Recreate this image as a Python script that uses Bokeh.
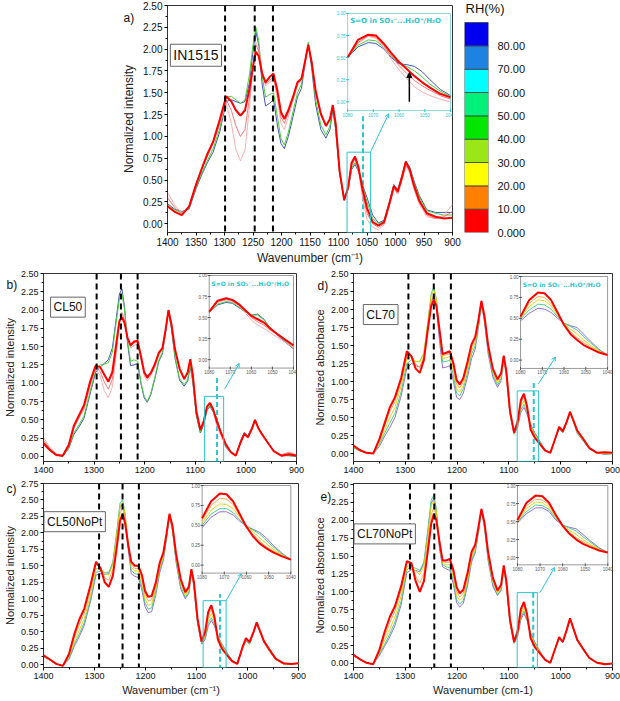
from bokeh.plotting import figure
from bokeh.models import (Range1d, SingleIntervalTicker, FixedTicker, NumeralTickFormatter,
                          Span, BoxAnnotation, Arrow, NormalHead, OpenHead, Label)
from bokeh.layouts import column, row
from bokeh.embed import file_html
from bokeh.resources import INLINE
from bokeh.core.properties import value

# ---------------- data ----------------
wn = [1400, 1388, 1375, 1362, 1350, 1340, 1330, 1320, 1308, 1297,
      1288, 1280, 1272, 1264, 1256, 1250, 1245, 1240, 1234, 1228,
      1221, 1214, 1207, 1201, 1195, 1188, 1180, 1172, 1165, 1159,
      1153, 1147, 1140, 1131, 1122, 1115, 1110, 1105, 1098, 1090,
      1083, 1077, 1071, 1065, 1058, 1050, 1040, 1030, 1020, 1010,
      1003, 996, 988, 982, 975, 968, 958, 945, 930, 915,
      900]

# panel a (IN1515)
a_pink = [0.36, 0.22, 0.12, 0.20, 0.45, 0.62, 0.78, 0.92, 1.15, 1.38,
          1.15, 0.85, 0.72, 0.85, 1.35, 1.80, 2.08, 2.02, 1.75, 1.58,
          1.62, 1.65, 1.42, 1.15, 1.08, 1.22, 1.40, 1.58, 1.65, 1.85,
          2.05, 1.85, 1.50, 1.25, 1.12, 1.20, 1.36, 1.15, 0.60, 0.27,
          0.42, 0.66, 0.74, 0.60, 0.30, 0.05, -0.04, -0.07, -0.01, 0.22,
          0.40, 0.34, 0.50, 0.66, 0.58, 0.40, 0.22, 0.08, 0.06, 0.10,
          0.22]
a_salmon = [0.30, 0.19, 0.11, 0.20, 0.45, 0.62, 0.77, 0.92, 1.16, 1.42,
            1.30, 1.12, 1.00, 1.08, 1.45, 1.82, 2.05, 1.98, 1.75, 1.60,
            1.64, 1.68, 1.48, 1.22, 1.15, 1.27, 1.43, 1.60, 1.66, 1.85,
            2.05, 1.85, 1.50, 1.25, 1.12, 1.20, 1.36, 1.15, 0.60, 0.27,
            0.42, 0.67, 0.75, 0.62, 0.36, 0.12, 0.00, -0.04, 0.00, 0.23,
            0.41, 0.35, 0.52, 0.68, 0.60, 0.42, 0.24, 0.10, 0.06, 0.08,
            0.14]
a_red = [0.20, 0.14, 0.10, 0.20, 0.45, 0.63, 0.80, 0.94, 1.20, 1.46,
         1.40, 1.30, 1.24, 1.30, 1.55, 1.80, 1.97, 1.92, 1.72, 1.62,
         1.68, 1.72, 1.52, 1.28, 1.20, 1.30, 1.45, 1.62, 1.66, 1.85,
         2.05, 1.85, 1.52, 1.26, 1.12, 1.20, 1.36, 1.15, 0.60, 0.27,
         0.42, 0.70, 0.77, 0.65, 0.40, 0.18, 0.02, -0.02, 0.02, 0.25,
         0.43, 0.37, 0.55, 0.71, 0.62, 0.45, 0.26, 0.12, 0.08, 0.06,
         0.07]
a_green = [0.22, 0.16, 0.13, 0.18, 0.42, 0.58, 0.72, 0.86, 1.10, 1.45,
           1.46, 1.42, 1.38, 1.42, 1.72, 2.05, 2.25, 2.10, 1.70, 1.45,
           1.48, 1.50, 1.22, 0.98, 0.90, 1.05, 1.28, 1.50, 1.60, 1.85,
           2.08, 1.82, 1.42, 1.13, 1.02, 1.12, 1.33, 1.10, 0.58, 0.27,
           0.41, 0.64, 0.70, 0.62, 0.44, 0.25, 0.06, 0.00, 0.03, 0.26,
           0.44, 0.38, 0.56, 0.71, 0.64, 0.48, 0.30, 0.15, 0.12, 0.10,
           0.10]
a_blue = [0.23, 0.17, 0.14, 0.17, 0.40, 0.56, 0.70, 0.82, 1.06, 1.40,
          1.42, 1.40, 1.38, 1.40, 1.62, 1.98, 2.20, 2.05, 1.60, 1.35,
          1.38, 1.42, 1.12, 0.92, 0.86, 1.00, 1.22, 1.45, 1.55, 1.82,
          2.06, 1.78, 1.36, 1.08, 0.98, 1.08, 1.30, 1.08, 0.57, 0.27,
          0.40, 0.62, 0.68, 0.60, 0.45, 0.30, 0.10, 0.01, 0.04, 0.27,
          0.45, 0.39, 0.57, 0.72, 0.65, 0.50, 0.32, 0.16, 0.13, 0.13,
          0.13]

# panel b (CL50)
b_pink = [0.26, 0.13, 0.04, 0.01, 0.14, 0.38, 0.52, 0.64, 0.95, 1.20,
          1.10, 0.90, 0.80, 0.95, 1.40, 1.82, 1.97, 1.88, 1.62, 1.48,
          1.52, 1.53, 1.30, 1.10, 1.03, 1.10, 1.22, 1.38, 1.46, 1.72,
          2.00, 1.80, 1.45, 1.18, 1.05, 1.14, 1.32, 1.12, 0.62, 0.36,
          0.48, 0.66, 0.71, 0.63, 0.42, 0.29, 0.15, 0.05, 0.01, 0.20,
          0.31, 0.26, 0.38, 0.50, 0.38, 0.30, 0.20, 0.08, 0.02, 0.06,
          0.02]
b_salmon = [0.22, 0.11, 0.03, 0.01, 0.14, 0.39, 0.53, 0.66, 0.98, 1.22,
            1.16, 1.02, 0.92, 1.05, 1.48, 1.85, 1.95, 1.86, 1.62, 1.50,
            1.55, 1.56, 1.33, 1.13, 1.06, 1.12, 1.24, 1.40, 1.47, 1.72,
            2.00, 1.80, 1.45, 1.18, 1.05, 1.14, 1.32, 1.12, 0.62, 0.36,
            0.48, 0.67, 0.72, 0.64, 0.46, 0.32, 0.17, 0.06, 0.01, 0.20,
            0.31, 0.26, 0.38, 0.50, 0.38, 0.30, 0.20, 0.08, 0.02, 0.05,
            0.02]
b_red = [0.18, 0.09, 0.02, 0.01, 0.16, 0.42, 0.56, 0.70, 1.02, 1.24,
         1.22, 1.12, 1.02, 1.15, 1.55, 1.85, 1.90, 1.83, 1.62, 1.52,
         1.57, 1.58, 1.36, 1.15, 1.08, 1.14, 1.26, 1.42, 1.48, 1.72,
         2.00, 1.80, 1.46, 1.20, 1.06, 1.15, 1.33, 1.12, 0.62, 0.36,
         0.49, 0.68, 0.73, 0.65, 0.49, 0.34, 0.17, 0.06, 0.01, 0.20,
         0.31, 0.26, 0.38, 0.50, 0.38, 0.30, 0.20, 0.07, 0.01, 0.03,
         0.01]
b_green = [0.16, 0.08, 0.02, 0.00, 0.12, 0.32, 0.43, 0.55, 0.88, 1.18,
           1.25, 1.26, 1.28, 1.42, 1.85, 2.15, 2.22, 2.02, 1.58, 1.30,
           1.32, 1.30, 1.00, 0.82, 0.75, 0.86, 1.08, 1.32, 1.42, 1.70,
           2.00, 1.76, 1.36, 1.06, 0.98, 1.05, 1.24, 1.04, 0.58, 0.33,
           0.45, 0.64, 0.69, 0.62, 0.53, 0.34, 0.14, 0.05, 0.01, 0.21,
           0.32, 0.27, 0.39, 0.49, 0.38, 0.31, 0.20, 0.07, 0.01, 0.01,
           0.00]
b_blue = [0.16, 0.08, 0.02, 0.00, 0.11, 0.30, 0.40, 0.52, 0.85, 1.15,
          1.22, 1.27, 1.32, 1.48, 1.90, 2.22, 2.29, 2.05, 1.55, 1.24,
          1.25, 1.27, 0.98, 0.80, 0.74, 0.84, 1.06, 1.30, 1.40, 1.68,
          1.99, 1.74, 1.34, 1.04, 0.96, 1.03, 1.22, 1.02, 0.56, 0.32,
          0.44, 0.63, 0.68, 0.61, 0.54, 0.33, 0.13, 0.05, 0.01, 0.22,
          0.33, 0.28, 0.40, 0.48, 0.38, 0.31, 0.20, 0.07, 0.01, 0.01,
          0.00]

# panel c (CL50NoPt)
c_red = [0.14, 0.08, 0.01, -0.02, 0.16, 0.45, 0.68, 0.85, 1.20, 1.56,
         1.46, 1.25, 1.18, 1.35, 1.80, 2.18, 2.29, 2.15, 1.82, 1.56,
         1.50, 1.50, 1.36, 1.12, 1.03, 1.04, 1.24, 1.55, 1.70, 1.98,
         2.29, 2.10, 1.68, 1.30, 1.10, 1.18, 1.45, 1.25, 0.70, 0.35,
         0.50, 0.80, 0.90, 0.73, 0.38, 0.24, 0.14, 0.05, 0.01, 0.26,
         0.40, 0.34, 0.50, 0.64, 0.50, 0.36, 0.24, 0.09, 0.02, 0.01,
         0.02]
c_orange = [0.13, 0.08, 0.01, -0.02, 0.14, 0.40, 0.60, 0.78, 1.13, 1.52,
            1.48, 1.32, 1.28, 1.45, 1.92, 2.30, 2.38, 2.22, 1.84, 1.52,
            1.46, 1.46, 1.30, 1.06, 0.97, 0.98, 1.19, 1.51, 1.67, 1.96,
            2.29, 2.09, 1.65, 1.27, 1.08, 1.16, 1.44, 1.23, 0.68, 0.34,
            0.47, 0.74, 0.84, 0.70, 0.40, 0.26, 0.15, 0.05, 0.01, 0.25,
            0.39, 0.33, 0.50, 0.64, 0.50, 0.36, 0.23, 0.09, 0.02, 0.01,
            0.02]
c_yellow = [0.13, 0.07, 0.01, -0.02, 0.12, 0.34, 0.52, 0.70, 1.05, 1.46,
            1.46, 1.38, 1.36, 1.52, 2.00, 2.40, 2.46, 2.28, 1.84, 1.48,
            1.42, 1.42, 1.24, 1.00, 0.90, 0.92, 1.14, 1.47, 1.64, 1.94,
            2.28, 2.07, 1.61, 1.23, 1.05, 1.13, 1.43, 1.21, 0.66, 0.33,
            0.44, 0.68, 0.77, 0.66, 0.42, 0.28, 0.16, 0.05, 0.01, 0.25,
            0.38, 0.32, 0.49, 0.63, 0.50, 0.35, 0.22, 0.08, 0.01, 0.00,
            0.02]
c_green = [0.12, 0.07, 0.01, -0.02, 0.10, 0.30, 0.46, 0.64, 0.99, 1.40,
           1.42, 1.40, 1.40, 1.56, 2.05, 2.45, 2.50, 2.30, 1.82, 1.43,
           1.38, 1.37, 1.18, 0.94, 0.84, 0.86, 1.10, 1.44, 1.61, 1.92,
           2.27, 2.05, 1.58, 1.19, 1.02, 1.10, 1.42, 1.19, 0.64, 0.32,
           0.41, 0.63, 0.71, 0.62, 0.43, 0.30, 0.17, 0.06, 0.01, 0.24,
           0.37, 0.31, 0.49, 0.63, 0.49, 0.35, 0.22, 0.08, 0.01, 0.00,
           0.02]
c_purple = [0.12, 0.07, 0.01, -0.02, 0.08, 0.27, 0.42, 0.60, 0.95, 1.36,
            1.38, 1.37, 1.38, 1.53, 2.00, 2.38, 2.44, 2.24, 1.76, 1.38,
            1.34, 1.32, 1.13, 0.88, 0.79, 0.80, 1.05, 1.40, 1.58, 1.90,
            2.26, 2.03, 1.55, 1.15, 1.00, 1.08, 1.41, 1.17, 0.62, 0.31,
            0.38, 0.58, 0.67, 0.59, 0.43, 0.31, 0.18, 0.06, 0.01, 0.24,
            0.36, 0.31, 0.48, 0.62, 0.49, 0.34, 0.21, 0.08, 0.01, 0.00,
            0.02]

# panel d (CL70)
d_red = [0.11, 0.05, 0.01, 0.00, 0.20, 0.42, 0.64, 0.78, 1.05, 1.42,
         1.35, 1.18, 1.12, 1.30, 1.75, 2.05, 2.13, 2.05, 1.72, 1.38,
         1.40, 1.42, 1.25, 1.02, 0.96, 1.05, 1.27, 1.52, 1.62, 1.85,
         2.12, 1.90, 1.50, 1.18, 1.03, 1.12, 1.36, 1.15, 0.60, 0.29,
         0.45, 0.74, 0.83, 0.66, 0.33, 0.22, 0.13, 0.04, 0.01, 0.22,
         0.37, 0.31, 0.45, 0.58, 0.45, 0.32, 0.22, 0.08, 0.01, 0.02,
         0.01]
d_orange = [0.10, 0.05, 0.01, 0.00, 0.18, 0.38, 0.58, 0.72, 1.00, 1.38,
            1.36, 1.24, 1.20, 1.36, 1.80, 2.12, 2.20, 2.10, 1.72, 1.36,
            1.37, 1.39, 1.20, 0.97, 0.91, 1.00, 1.22, 1.48, 1.58, 1.83,
            2.12, 1.89, 1.48, 1.16, 1.01, 1.10, 1.35, 1.14, 0.58, 0.28,
            0.43, 0.70, 0.78, 0.64, 0.36, 0.24, 0.14, 0.04, 0.01, 0.22,
            0.37, 0.31, 0.45, 0.58, 0.45, 0.31, 0.21, 0.08, 0.01, 0.01,
            0.01]
d_yellow = [0.09, 0.04, 0.01, 0.00, 0.15, 0.32, 0.50, 0.64, 0.94, 1.32,
            1.34, 1.28, 1.27, 1.40, 1.85, 2.20, 2.27, 2.14, 1.70, 1.32,
            1.33, 1.35, 1.14, 0.90, 0.85, 0.95, 1.17, 1.43, 1.54, 1.80,
            2.11, 1.87, 1.45, 1.13, 0.98, 1.07, 1.34, 1.12, 0.57, 0.28,
            0.41, 0.66, 0.73, 0.61, 0.38, 0.26, 0.15, 0.04, 0.01, 0.22,
            0.36, 0.30, 0.44, 0.58, 0.45, 0.30, 0.20, 0.07, 0.01, 0.00,
            0.00]
d_green = [0.08, 0.04, 0.01, 0.00, 0.13, 0.28, 0.42, 0.56, 0.86, 1.25,
           1.30, 1.28, 1.28, 1.40, 1.85, 2.22, 2.31, 2.15, 1.66, 1.27,
           1.28, 1.30, 1.08, 0.84, 0.80, 0.90, 1.12, 1.38, 1.50, 1.77,
           2.10, 1.85, 1.42, 1.10, 0.95, 1.04, 1.33, 1.10, 0.56, 0.27,
           0.39, 0.61, 0.68, 0.58, 0.40, 0.28, 0.16, 0.05, 0.01, 0.22,
           0.35, 0.29, 0.44, 0.58, 0.44, 0.29, 0.19, 0.07, 0.01, -0.01,
           0.00]
d_purple = [0.08, 0.04, 0.01, 0.00, 0.10, 0.24, 0.36, 0.50, 0.80, 1.19,
            1.25, 1.22, 1.20, 1.32, 1.78, 2.10, 2.18, 2.04, 1.56, 1.19,
            1.20, 1.22, 1.00, 0.78, 0.75, 0.84, 1.06, 1.32, 1.45, 1.74,
            2.08, 1.82, 1.38, 1.06, 0.92, 1.01, 1.32, 1.08, 0.55, 0.27,
            0.37, 0.57, 0.64, 0.55, 0.40, 0.29, 0.17, 0.05, 0.01, 0.22,
            0.35, 0.29, 0.43, 0.58, 0.44, 0.28, 0.19, 0.07, 0.01, -0.01,
            0.00]

# panel e (CL70NoPt)
e_red = [0.12, 0.06, 0.01, -0.01, 0.19, 0.44, 0.65, 0.80, 1.08, 1.43,
         1.40, 1.15, 1.00, 1.15, 1.60, 1.95, 2.09, 2.00, 1.70, 1.44,
         1.44, 1.46, 1.30, 1.07, 0.98, 1.03, 1.26, 1.56, 1.66, 1.90,
         2.16, 1.96, 1.55, 1.20, 1.02, 1.10, 1.37, 1.16, 0.62, 0.30,
         0.46, 0.76, 0.86, 0.69, 0.35, 0.23, 0.14, 0.05, 0.01, 0.22,
         0.37, 0.30, 0.48, 0.63, 0.48, 0.33, 0.22, 0.08, 0.01, -0.01,
         0.00]
e_orange = [0.12, 0.06, 0.01, -0.01, 0.17, 0.38, 0.57, 0.73, 1.02, 1.40,
            1.40, 1.22, 1.12, 1.26, 1.72, 2.08, 2.18, 2.06, 1.68, 1.42,
            1.41, 1.42, 1.25, 1.01, 0.93, 0.98, 1.21, 1.52, 1.63, 1.88,
            2.16, 1.95, 1.52, 1.17, 1.00, 1.08, 1.36, 1.15, 0.60, 0.30,
            0.44, 0.72, 0.81, 0.67, 0.37, 0.25, 0.15, 0.05, 0.01, 0.22,
            0.37, 0.30, 0.48, 0.63, 0.48, 0.33, 0.22, 0.08, 0.01, 0.00,
            0.00]
e_yellow = [0.11, 0.06, 0.01, -0.01, 0.15, 0.32, 0.48, 0.65, 0.94, 1.35,
            1.38, 1.29, 1.24, 1.36, 1.82, 2.20, 2.27, 2.12, 1.66, 1.40,
            1.38, 1.38, 1.20, 0.95, 0.88, 0.93, 1.16, 1.48, 1.60, 1.86,
            2.15, 1.93, 1.49, 1.14, 0.98, 1.06, 1.35, 1.13, 0.59, 0.29,
            0.42, 0.68, 0.77, 0.64, 0.39, 0.27, 0.16, 0.05, 0.01, 0.22,
            0.36, 0.30, 0.47, 0.63, 0.48, 0.33, 0.21, 0.08, 0.01, 0.00,
            0.00]
e_green = [0.11, 0.06, 0.01, -0.01, 0.13, 0.27, 0.41, 0.58, 0.87, 1.31,
           1.35, 1.33, 1.30, 1.42, 1.90, 2.28, 2.35, 2.16, 1.64, 1.38,
           1.35, 1.34, 1.15, 0.89, 0.83, 0.88, 1.12, 1.45, 1.57, 1.84,
           2.15, 1.91, 1.46, 1.11, 0.96, 1.04, 1.34, 1.11, 0.58, 0.29,
           0.40, 0.64, 0.73, 0.62, 0.41, 0.29, 0.17, 0.05, 0.01, 0.22,
           0.36, 0.29, 0.47, 0.62, 0.48, 0.32, 0.21, 0.07, 0.01, 0.00,
           0.00]
e_purple = [0.11, 0.06, 0.01, -0.01, 0.11, 0.24, 0.37, 0.53, 0.82, 1.27,
            1.31, 1.30, 1.28, 1.40, 1.86, 2.24, 2.30, 2.10, 1.60, 1.35,
            1.32, 1.30, 1.10, 0.85, 0.79, 0.84, 1.08, 1.42, 1.54, 1.82,
            2.14, 1.89, 1.43, 1.08, 0.95, 1.02, 1.33, 1.10, 0.57, 0.28,
            0.38, 0.61, 0.70, 0.60, 0.42, 0.30, 0.17, 0.05, 0.01, 0.22,
            0.35, 0.29, 0.47, 0.62, 0.47, 0.32, 0.20, 0.07, 0.01, 0.00,
            0.00]

# insets (S=O band, 1080-1040 cm-1)
wn_in = [1080, 1076, 1072, 1069, 1066, 1063, 1060, 1057, 1054, 1051, 1048, 1044, 1040]
ia_pink = [0.50, 0.66, 0.74, 0.72, 0.62, 0.48, 0.36, 0.26, 0.17, 0.11, 0.07, 0.03, 0.00]
ia_salmon = [0.50, 0.67, 0.75, 0.73, 0.64, 0.52, 0.41, 0.32, 0.24, 0.18, 0.13, 0.07, 0.03]
ia_red = [0.50, 0.70, 0.76, 0.75, 0.66, 0.55, 0.45, 0.37, 0.29, 0.22, 0.16, 0.09, 0.05]
ia_green = [0.50, 0.64, 0.70, 0.69, 0.62, 0.52, 0.44, 0.40, 0.35, 0.28, 0.20, 0.12, 0.06]
ia_blue = [0.50, 0.62, 0.67, 0.66, 0.60, 0.50, 0.43, 0.42, 0.40, 0.34, 0.25, 0.14, 0.07]

ib_pink = [0.57, 0.68, 0.71, 0.69, 0.64, 0.56, 0.47, 0.41, 0.37, 0.32, 0.27, 0.21, 0.14]
ib_salmon = [0.57, 0.69, 0.72, 0.70, 0.65, 0.58, 0.50, 0.45, 0.41, 0.35, 0.30, 0.23, 0.16]
ib_red = [0.57, 0.70, 0.73, 0.71, 0.66, 0.59, 0.52, 0.48, 0.44, 0.37, 0.31, 0.24, 0.17]
ib_green = [0.56, 0.66, 0.69, 0.68, 0.63, 0.57, 0.53, 0.53, 0.47, 0.38, 0.31, 0.22, 0.14]
ib_blue = [0.56, 0.65, 0.68, 0.67, 0.62, 0.57, 0.53, 0.54, 0.48, 0.37, 0.30, 0.21, 0.13]

ic_red = [0.59, 0.80, 0.90, 0.89, 0.80, 0.64, 0.48, 0.36, 0.27, 0.21, 0.16, 0.11, 0.07]
ic_orange = [0.56, 0.75, 0.84, 0.83, 0.76, 0.62, 0.48, 0.39, 0.30, 0.23, 0.18, 0.12, 0.07]
ic_yellow = [0.53, 0.69, 0.77, 0.76, 0.71, 0.60, 0.49, 0.42, 0.34, 0.27, 0.20, 0.13, 0.07]
ic_green = [0.50, 0.64, 0.71, 0.71, 0.66, 0.57, 0.49, 0.44, 0.39, 0.31, 0.23, 0.14, 0.07]
ic_purple = [0.47, 0.60, 0.67, 0.67, 0.63, 0.55, 0.49, 0.45, 0.41, 0.34, 0.25, 0.15, 0.07]

id_red = [0.52, 0.72, 0.81, 0.80, 0.72, 0.57, 0.42, 0.31, 0.24, 0.18, 0.14, 0.09, 0.06]
id_orange = [0.51, 0.68, 0.76, 0.75, 0.68, 0.56, 0.43, 0.34, 0.27, 0.21, 0.16, 0.10, 0.06]
id_yellow = [0.50, 0.64, 0.72, 0.71, 0.65, 0.54, 0.44, 0.37, 0.31, 0.24, 0.18, 0.11, 0.06]
id_green = [0.49, 0.60, 0.67, 0.66, 0.61, 0.52, 0.44, 0.40, 0.36, 0.28, 0.21, 0.12, 0.06]
id_purple = [0.47, 0.56, 0.62, 0.61, 0.57, 0.50, 0.44, 0.41, 0.39, 0.31, 0.23, 0.13, 0.06]

ie_red = [0.52, 0.76, 0.86, 0.85, 0.76, 0.59, 0.44, 0.33, 0.25, 0.19, 0.15, 0.10, 0.07]
ie_orange = [0.51, 0.72, 0.81, 0.80, 0.73, 0.58, 0.44, 0.35, 0.28, 0.22, 0.17, 0.11, 0.07]
ie_yellow = [0.50, 0.68, 0.77, 0.76, 0.70, 0.56, 0.45, 0.38, 0.32, 0.25, 0.19, 0.12, 0.07]
ie_green = [0.49, 0.64, 0.73, 0.72, 0.67, 0.54, 0.45, 0.41, 0.37, 0.29, 0.22, 0.13, 0.07]
ie_purple = [0.48, 0.61, 0.69, 0.69, 0.64, 0.52, 0.45, 0.42, 0.40, 0.32, 0.24, 0.14, 0.07]

inset_xticks = [1080, 1070, 1060, 1050, 1040]
inset_yticks = [0.0, 0.25, 0.5, 0.75, 1.0]
inset_ylabels = ["0.00", "0.25", "0.50", "0.75", "1.00"]

# RH colour scale
rh_low = [0, 10, 20, 30, 40, 50, 60, 70, 80]
rh_high = [10, 20, 30, 40, 50, 60, 70, 80, 90]
rh_colors = ["#ff0000", "#ff8000", "#ffff00", "#9be619", "#00e600",
             "#00f07a", "#00ffff", "#1e82e0", "#0000ee"]
rh_ticks = [0, 10, 20, 30, 40, 50, 60, 70, 80]
rh_labels = ["0.000", "10.00", "20.00", "30.00", "40.00", "50.00", "60.00", "70.00", "80.00"]

# ---------------- helpers ----------------
FONT = "Liberation Sans"
CYAN = "#2cc5cc"
SUBTXT = "S=O in SO\u2083\u207b...H\u2083O\u207a/H\u2082O"


def base_fig(w, h, ml, mr, mt, mb, ymin, ymax, xstep, ylabel, xlabel=None):
    p = figure(width=w, height=h, x_range=Range1d(1400, 900), y_range=Range1d(ymin, ymax),
               output_backend="svg", toolbar_location=None,
               min_border_left=ml, min_border_right=mr, min_border_top=mt, min_border_bottom=mb)
    p.xgrid.visible = False
    p.ygrid.visible = False
    p.outline_line_color = "#333333"
    p.background_fill_color = "white"
    p.border_fill_color = "white"
    p.xaxis.ticker = SingleIntervalTicker(interval=xstep, num_minor_ticks=2)
    p.yaxis.ticker = SingleIntervalTicker(interval=0.25, num_minor_ticks=2)
    p.yaxis.formatter = NumeralTickFormatter(format="0.00")
    for ax in (p.xaxis[0], p.yaxis[0]):
        ax.major_label_text_font = FONT
        ax.major_label_text_font_size = "9px"
        ax.major_label_text_color = "#111111"
        ax.major_tick_out = 3
        ax.major_tick_in = 0
        ax.minor_tick_out = 2
        ax.minor_tick_in = 0
        ax.major_label_standoff = 2
        ax.axis_line_color = "#333333"
        ax.axis_label_text_font = FONT
        ax.axis_label_text_font_style = "normal"
        ax.axis_label_text_font_size = "11px"
        ax.axis_label_text_color = "#222222"
        ax.axis_label_standoff = 2
    p.yaxis.axis_label = ylabel
    if xlabel:
        p.xaxis.axis_label = xlabel
    return p


def set_letter(p, letter, offset, standoff):
    # panel letter drawn as the plot title, pulled down beside the y axis
    p.title.text = letter
    p.title.align = "left"
    p.title.offset = offset
    p.title.standoff = standoff
    p.title.text_font = FONT
    p.title.text_font_size = "12px"
    p.title.text_font_style = "normal"
    p.title.text_color = "#111111"


def inset_ranges(fl, fr, ttop, tbot):
    x0, x1, y0, y1 = 1080.0, 1040.0, -0.1, 1.0
    bx = (x1 - x0) / (fr - fl)
    xs = x0 - bx * fl
    gtop, gbot = 1 - ttop, 1 - tbot
    by = (y1 - y0) / (gtop - gbot)
    ys = y0 - by * gbot
    return Range1d(xs, xs + bx), Range1d(ys, ys + by)


def add_main(p, curves):
    for arr, color, width in curves:
        p.line(wn, arr, line_color=color, line_width=width)


def add_inset(p, geom, curves, frame_color, label_color, title_size=None, arrow=False):
    xr, yr = inset_ranges(*geom)
    p.extra_x_ranges["ix"] = xr
    p.extra_y_ranges["iy"] = yr
    kw = dict(x_range_name="ix", y_range_name="iy")
    p.quad(left=[1080], right=[1040], bottom=[-0.1], top=[1.0], fill_color="white",
           line_color=frame_color, line_width=1, **kw)
    for arr, color, width in curves:
        p.line(wn_in, arr, line_color=color, line_width=width, **kw)
    p.scatter(x=[1080] * 5, y=inset_yticks, marker="dash", size=3, line_color=label_color, **kw)
    p.scatter(x=inset_xticks, y=[-0.1] * 5, marker="dash", angle=1.5708, size=3,
              line_color=label_color, **kw)
    p.text(x=[1080] * 5, y=inset_yticks, text=inset_ylabels, x_offset=-2,
           text_align="right", text_baseline="middle", text_font=value(FONT),
           text_font_size="4.5px", text_color=label_color, **kw)
    p.text(x=inset_xticks, y=[-0.1] * 5, text=[str(t) for t in inset_xticks], y_offset=2,
           text_align="center", text_baseline="top", text_font=value(FONT),
           text_font_size="4.5px", text_color=label_color, **kw)
    if title_size:
        p.text(x=[1079], y=[0.91], text=[SUBTXT], text_align="left", text_baseline="middle",
               text_font=value("DejaVu Sans"), text_font_style="bold",
               text_font_size=title_size, text_color=CYAN, **kw)
    if arrow:
        p.add_layout(Arrow(end=NormalHead(size=5, fill_color="black", line_color="black"),
                           x_start=1056, y_start=0.0, x_end=1056, y_end=0.33,
                           line_color="black", line_width=1.5, **kw))


def add_marks(p, dashes, cyan_x, cyan_top, box, conn):
    for d in dashes:
        p.add_layout(Span(location=d, dimension="height", line_color="black",
                          line_width=2, line_dash="6 4"))
    p.add_layout(BoxAnnotation(left=box[0], right=box[1], top=box[2], fill_alpha=0,
                               line_color=CYAN, line_alpha=1, line_width=1))
    p.segment(x0=[cyan_x], y0=[-0.2], x1=[cyan_x], y1=[cyan_top], line_color=CYAN,
              line_width=2, line_dash="5 3")
    p.add_layout(Arrow(end=OpenHead(size=4, line_color=CYAN, line_width=1),
                       x_start=conn[0], y_start=conn[1], x_end=conn[2], y_end=conn[3],
                       line_color=CYAN, line_width=1))


def add_name(p, name, name_xy, name_size):
    p.add_layout(Label(x=name_xy[0], y=name_xy[1], text=name, text_font=FONT,
                       text_font_size=name_size, text_align="left", text_baseline="middle",
                       text_color="#111111", border_line_color="#666666",
                       background_fill_color="white", padding=3))


# ---------------- panel a ----------------
pa = base_fig(462, 268, 167, 10, 5, 36, -0.1, 2.5, 50, "Normalized intensity",
              "Wavenumber (cm\u207b\u00b9)")
pa.yaxis.axis_label_text_font_size = "12px"
pa.xaxis.axis_label_text_font_size = "12px"
pa.xaxis.major_label_text_font_size = "10px"
pa.yaxis.major_label_text_font_size = "10px"
pa.yaxis.axis_label_standoff = 4
set_letter(pa, "a)", -44, -38)
add_marks(pa, [1299, 1247, 1215], 1057, 1.26, (1085, 1044, 0.82), (1044, 0.82, 1012, 1.26))
add_main(pa, [(a_blue, "#4656b8", 1.0), (a_green, "#4ccf3c", 1.0), (a_pink, "#f7a8a8", 0.9),
              (a_salmon, "#f26b6b", 0.9), (a_red, "#ff0000", 2.0)])
add_inset(pa, (0.632, 0.993, 0.035, 0.463),
          [(ia_blue, "#4656b8", 1.0), (ia_green, "#4ccf3c", 1.0), (ia_pink, "#f7a8a8", 0.9),
           (ia_salmon, "#f26b6b", 0.9), (ia_red, "#ff0000", 2.0)],
          "#8fd6d8", CYAN, title_size="7px", arrow=True)
add_name(pa, "IN1515", (1395, 1.93), "14px")

# colour bar (same borders as panel a so the row keeps both frames aligned)
cb = figure(width=158, height=268, x_range=Range1d(0, 1), y_range=Range1d(0, 97.3),
            output_backend="svg", toolbar_location=None, y_axis_location="right",
            min_border_left=2, min_border_right=132, min_border_top=5, min_border_bottom=36,
            title="RH(%)")
cb.quad(left=0, right=1, bottom=rh_low, top=rh_high, fill_color=rh_colors,
        line_color="#333333", line_width=0.7)
cb.xaxis.visible = False
cb.xgrid.visible = False
cb.ygrid.visible = False
cb.outline_line_color = None
cb.yaxis.ticker = FixedTicker(ticks=rh_ticks)
cb.yaxis.major_label_overrides = dict(zip(rh_ticks, rh_labels))
cb.yaxis.major_tick_line_color = None
cb.yaxis.minor_tick_line_color = None
cb.yaxis.axis_line_color = None
cb.yaxis.major_label_text_font = FONT
cb.yaxis.major_label_text_font_size = "11px"
cb.yaxis.major_label_text_color = "#111111"
cb.yaxis.major_label_standoff = 3
cb.title.text_font = FONT
cb.title.text_font_size = "13px"
cb.title.text_font_style = "normal"
cb.title.text_color = "#111111"
cb.title.align = "left"
cb.title.offset = 1
cb.title.standoff = -20

# ---------------- panel b ----------------
pb = base_fig(310, 210, 38, 14, 5, 17, -0.07, 2.5, 100, "Normalized intensity")
set_letter(pb, "b)", -37, -36)
add_marks(pb, [1295, 1247, 1214], 1057, 1.08, (1082, 1044, 0.82), (1042, 0.92, 1013, 1.27))
add_main(pb, [(b_blue, "#4656b8", 1.0), (b_green, "#4ccf3c", 1.0), (b_pink, "#f7a8a8", 0.9),
              (b_salmon, "#f26b6b", 0.9), (b_red, "#ff0000", 2.0)])
add_inset(pb, (0.655, 0.988, 0.0105, 0.503),
          [(ib_blue, "#4656b8", 1.0), (ib_green, "#4ccf3c", 1.0), (ib_pink, "#f7a8a8", 0.9),
           (ib_salmon, "#f26b6b", 0.9), (ib_red, "#ff0000", 2.0)],
          "#999999", "#555555", title_size="6px")
add_name(pb, "CL50", (1386, 2.04), "12px")

# ---------------- panel d ----------------
pd_ = base_fig(310, 210, 43, 8, 5, 17, -0.11, 2.5, 100, "Normalized absorbance")
set_letter(pd_, "d)", -36, -38)
add_marks(pd_, [1294, 1245, 1212], 1052, 1.01, (1084, 1043, 0.87), (1043, 0.97, 1010, 1.34))
add_main(pd_, [(d_purple, "#9060c8", 0.9), (d_green, "#38c888", 0.9), (d_yellow, "#e2d600", 0.9),
               (d_orange, "#ffa040", 0.9), (d_red, "#ff0000", 2.0)])
add_inset(pd_, (0.645, 0.981, 0.016, 0.505),
          [(id_purple, "#9060c8", 0.9), (id_green, "#38c888", 0.9), (id_yellow, "#e2d600", 0.9),
           (id_orange, "#ffa040", 0.9), (id_red, "#ff0000", 2.0)],
          "#999999", "#555555", title_size="6px")
add_name(pd_, "CL70", (1381, 1.93), "12px")

# ---------------- panel c ----------------
pc = base_fig(310, 222, 39, 12, 5, 33, -0.045, 2.75, 100, "Normalized intensity",
              "Wavenumber (cm\u207b\u00b9)")
set_letter(pc, "c)", -37, -24)
add_marks(pc, [1291, 1245, 1213], 1054, 1.07, (1087, 1042, 0.97), (1042, 0.97, 1012, 1.38))
add_main(pc, [(c_purple, "#9060c8", 0.9), (c_green, "#38c888", 0.9), (c_yellow, "#e2d600", 0.9),
              (c_orange, "#ffa040", 0.9), (c_red, "#ff0000", 2.0)])
add_inset(pc, (0.622, 0.970, 0.011, 0.487),
          [(ic_purple, "#9060c8", 0.9), (ic_green, "#38c888", 0.9), (ic_yellow, "#e2d600", 0.9),
           (ic_orange, "#ffa040", 0.9), (ic_red, "#ff0000", 2.0)],
          "#999999", "#555555")
add_name(pc, "CL50NoPt", (1399, 2.17), "12px")

# ---------------- panel e ----------------
pe = base_fig(310, 222, 41, 8, 5, 33, -0.056, 2.514, 100, "Normalized absorbance",
              "Wavenumber (cm-1)")
set_letter(pe, "e)", -33, -40)
add_marks(pe, [1291, 1244, 1212], 1053, 0.99, (1084, 1045, 0.99), (1040, 0.99, 1012, 1.34))
add_main(pe, [(e_purple, "#9060c8", 0.9), (e_green, "#38c888", 0.9), (e_yellow, "#e2d600", 0.9),
              (e_orange, "#ffa040", 0.9), (e_red, "#ff0000", 2.0)])
add_inset(pe, (0.633, 0.982, 0.011, 0.442),
          [(ie_purple, "#9060c8", 0.9), (ie_green, "#38c888", 0.9), (ie_yellow, "#e2d600", 0.9),
           (ie_orange, "#ffa040", 0.9), (ie_red, "#ff0000", 2.0)],
          "#999999", "#555555")
add_name(pe, "CL70NoPt", (1399, 1.81), "12px")

layout = column(row(pa, cb), row(pb, pd_), row(pc, pe))
open("out.html", "w").write(file_html(layout, INLINE, title="RH spectra"))
